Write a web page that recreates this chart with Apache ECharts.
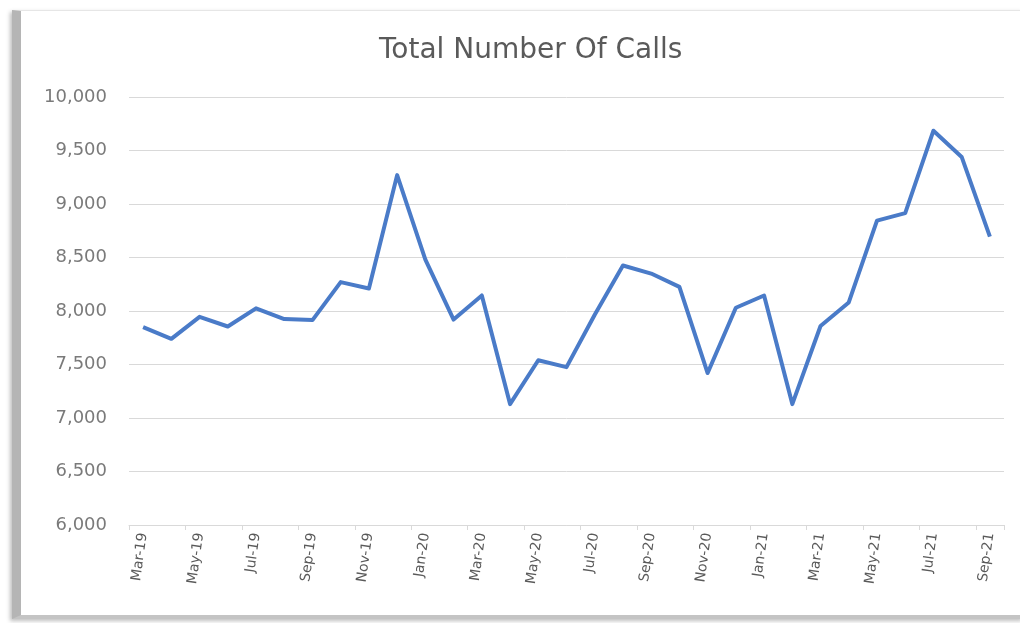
<!DOCTYPE html>
<html>
<head>
<meta charset="utf-8">
<title>Total Number Of Calls</title>
<script src="https://cdn.jsdelivr.net/npm/echarts@6/dist/echarts.min.js"></script>
<style>
	html, body { margin: 0; padding: 0; background: #fff; }
	#frame {
		position: absolute; left: 12px; top: 10px; width: 1003px; height: 604px;
		border-left: 9px solid #b5b5b5; border-bottom: 4px solid #c4c4c4; border-top: 1px solid #e6e6e6;
		box-shadow: -2px 2px 4px rgba(0,0,0,0.25);
	}
	#container { position: absolute; left: 0; top: 0; width: 1020px; height: 623px; }
</style>
</head>
<body>
<div id="frame"></div>
<div id="container"></div>
<script>
	// 数据
	var months = ['Mar-19','Apr-19','May-19','Jun-19','Jul-19','Aug-19','Sep-19','Oct-19','Nov-19','Dec-19',
		'Jan-20','Feb-20','Mar-20','Apr-20','May-20','Jun-20','Jul-20','Aug-20','Sep-20','Oct-20','Nov-20','Dec-20',
		'Jan-21','Feb-21','Mar-21','Apr-21','May-21','Jun-21','Jul-21','Aug-21','Sep-21'];
	var calls = [7850, 7740, 7945, 7855, 8025, 7925, 7915, 8270, 8210, 9270,
		8480, 7920, 8145, 7130, 7540, 7475, 7965, 8425, 8350, 8225, 7420, 8030,
		8145, 7130, 7860, 8080, 8845, 8915, 9685, 9440, 8695];

	var myChart = echarts.init(document.getElementById('container'));

	myChart.setOption({
		animation : false,
		title : {
			text : 'Total Number Of Calls',
			left : 374,
			top : 32,
			textStyle : { fontFamily : 'DejaVu Sans', fontSize : 28, fontWeight : 'normal', color : '#5a5a5a' }
		},
		grid : {
			left : 129,
			right : 16,
			top : 97,
			bottom : 98
		},
		xAxis : {
			type : 'category',
			boundaryGap : true,
			data : months,
			axisLine : { lineStyle : { color : '#d9d9d9', width : 1 } },
			axisTick : { show : true, interval : 1, length : 5, lineStyle : { color : '#d9d9d9' } },
			axisLabel : {
				interval : 1,
				rotate : 82,
				margin : 8,
				fontFamily : 'DejaVu Sans',
				fontSize : 14,
				color : '#5a5a5a'
			}
		},
		yAxis : {
			type : 'value',
			min : 6000,
			max : 10000,
			interval : 500,
			axisLine : { show : false },
			axisTick : { show : false },
			splitLine : { lineStyle : { color : '#d9d9d9', width : 1 } },
			axisLabel : {
				margin : 22,
				fontFamily : 'DejaVu Sans',
				fontSize : 18,
				color : '#7a7a7a',
				formatter : function (v) { return v.toLocaleString('en-US'); }
			}
		},
		series : [ {
			name : 'Total Number Of Calls',
			type : 'line',
			data : calls,
			symbol : 'none',
			lineStyle : { color : '#4a7bc8', width : 4, join : 'round' }
		} ]
	});
</script>
</body>
</html>
